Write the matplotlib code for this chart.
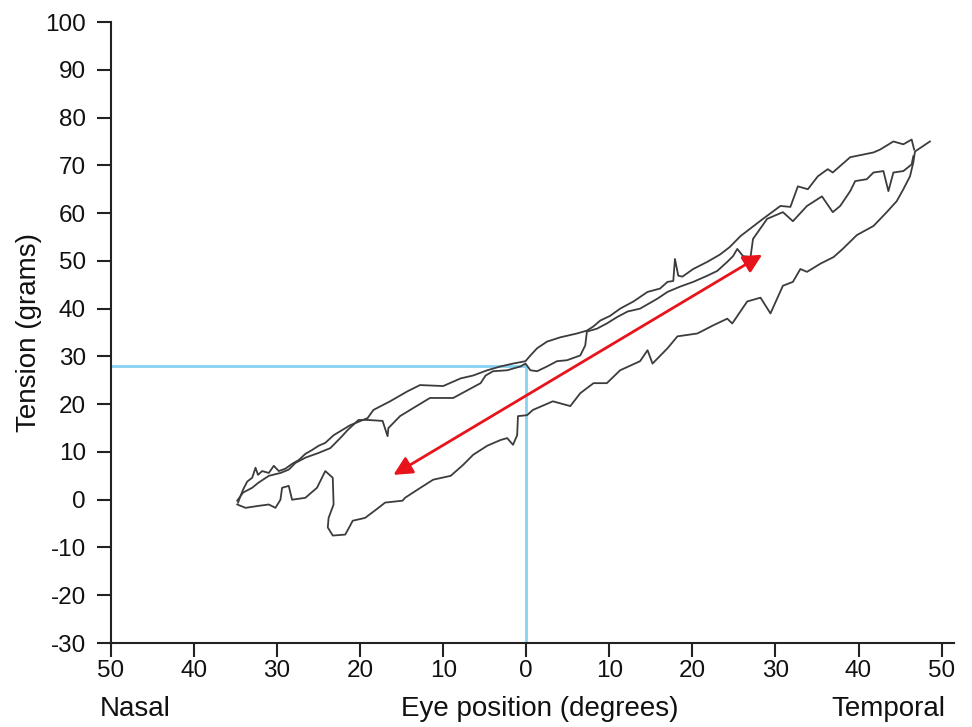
import matplotlib
matplotlib.use('Agg')
import matplotlib.pyplot as plt

plt.rcParams['font.family'] = ['Liberation Sans', 'DejaVu Sans']
plt.rcParams['axes.unicode_minus'] = False

# lower branch (nasal -> temporal)
low_x = [-34.8, -33.8, -32.3, -31.0, -30.2, -29.6, -29.4, -28.6, -28.2, -26.6, -25.2, -24.2,
         -23.3, -23.2, -23.8, -23.9, -23.3, -21.8, -21.2, -20.9, -19.4, -17.8, -17.0, -14.9,
         -14.6, -13.1, -12.2, -11.2, -9.1, -7.6, -6.4, -4.7, -3.1, -2.3, -1.6, -1.1, -1.0,
         0.1, 0.8, 3.2, 5.3, 6.5, 8.1, 9.7, 11.3, 13.7, 14.6, 15.2, 17.0, 18.2, 20.6, 22.5,
         24.2, 24.8, 26.6, 28.2, 29.4, 30.9, 32.1, 33.0, 33.8, 35.4, 37.0, 38.1, 39.8, 41.8,
         43.4, 44.6, 45.4, 46.2, 46.6, 46.8, 48.6]
low_y = [-1.0, -1.7, -1.3, -1.0, -1.7, 0.0, 2.5, 2.9, 0.0, 0.4, 2.5, 6.0,
         4.6, -1.0, -3.8, -5.8, -7.5, -7.3, -5.4, -4.4, -3.8, -1.7, -0.6, -0.2,
         0.4, 2.1, 3.1, 4.2, 5.0, 7.3, 9.4, 11.3, 12.5, 12.9, 11.5, 13.5, 17.5,
         17.7, 18.8, 20.6, 19.6, 22.3, 24.4, 24.4, 27.1, 29.0, 31.3, 28.5, 31.7, 34.2, 34.8, 36.5,
         37.9, 36.9, 41.5, 42.3, 39.0, 44.8, 45.6, 48.3, 47.7, 49.4, 50.8, 52.5, 55.4, 57.3,
         60.2, 62.5, 65.0, 67.7, 70.6, 72.9, 75.0]

# upper branch, first pass
upA_x = [-34.7, -34.4, -34.1, -33.6, -33.0, -32.6, -32.3, -31.8, -31.0, -30.4, -29.8, -29.0,
         -28.2, -27.4, -26.6, -25.8, -25.0, -24.2, -23.2, -21.2, -19.1, -18.4, -16.4, -14.3,
         -12.8, -10.0, -7.9, -6.4, -4.7, -3.1, -1.6, -0.1, 0.5, 1.3, 2.5, 4.1, 6.1, 7.3, 8.1,
         8.9, 10.1, 11.3, 12.9, 14.6, 16.1, 17.0, 17.7, 17.9, 18.3, 18.8, 20.1, 21.8, 23.3,
         24.5, 25.8, 28.5, 30.6, 31.8, 32.7, 33.9, 35.1, 36.3, 36.9, 39.0, 41.8, 42.6, 44.2,
         45.4, 46.4, 46.7]
upA_y = [-0.6, 0.8, 2.1, 3.8, 4.6, 6.7, 5.2, 6.0, 5.6, 7.1, 6.0, 6.5,
         7.5, 8.3, 9.6, 10.4, 11.3, 11.9, 13.5, 15.6, 17.1, 18.8, 20.6, 22.7,
         24.0, 23.8, 25.4, 26.0, 27.1, 27.9, 28.5, 29.0, 30.2, 31.7, 33.1, 34.0, 34.8, 35.4, 36.3,
         37.5, 38.5, 40.0, 41.5, 43.5, 44.2, 45.6, 45.8, 50.4, 46.9, 46.7, 48.3, 49.8, 51.3,
         52.9, 55.2, 58.8, 61.5, 61.3, 65.6, 65.0, 67.7, 69.2, 68.5, 71.7, 72.7, 73.3, 75.0,
         74.4, 75.4, 73.3]

# upper branch, second pass
upB_x = [-34.8, -34.1, -33.0, -32.3, -31.0, -29.6, -28.6, -27.8, -26.6, -25.0, -23.6, -22.4,
         -21.5, -20.2, -19.1, -17.3, -16.7, -16.6, -15.2, -13.6, -11.6, -8.8, -7.1, -5.5,
         -4.9, -4.0, -2.3, -0.7, -0.1, 0.5, 1.3, 2.5, 3.7, 4.9, 6.5, 7.1, 7.3, 8.5, 9.7,
         11.0, 12.2, 13.7, 15.8, 17.0, 18.5, 20.1, 21.8, 23.0, 24.2, 24.9, 25.4, 26.1, 27.0,
         27.3, 29.0, 30.9, 32.1, 33.8, 35.6, 36.9, 37.8, 39.0, 39.6, 41.0, 41.8, 43.0, 43.6,
         44.2, 45.4, 46.4, 46.6]
upB_y = [-0.2, 1.5, 2.5, 3.5, 5.0, 5.6, 6.3, 7.7, 8.8, 9.8, 10.8, 12.9,
         14.6, 16.7, 16.7, 16.5, 13.3, 15.0, 17.5, 19.2, 21.3, 21.3, 22.9, 24.4,
         26.0, 26.9, 27.1, 27.9, 28.5, 27.1, 26.9, 27.9, 29.0, 29.2, 30.2, 32.3, 35.2, 35.8, 36.9,
         38.3, 39.4, 40.0, 42.1, 43.5, 44.6, 45.6, 46.9, 47.9, 49.8, 51.0, 52.5, 51.0, 50.8,
         54.6, 58.8, 60.2, 58.3, 61.5, 63.5, 60.2, 61.5, 64.6, 66.7, 67.1, 68.5, 68.8, 64.6,
         68.5, 68.8, 70.2, 71.9]

ref_x = 0
ref_y = 28
arrow_start = (-16.0, 5.2)
arrow_end = (28.4, 51.3)

xticks = [-50, -40, -30, -20, -10, 0, 10, 20, 30, 40, 50]
xtick_labels = ['50', '40', '30', '20', '10', '0', '10', '20', '30', '40', '50']
yticks = list(range(-30, 101, 10))

fig = plt.figure(figsize=(9.72, 7.27), dpi=100)
ax = fig.add_axes([0.1142, 0.1155, 0.8673, 0.8542])

line_color = '#3c3c3c'
ax.plot(low_x, low_y, color=line_color, lw=1.3)
ax.plot(upA_x, upA_y, color=line_color, lw=1.3)
ax.plot(upB_x, upB_y, color=line_color, lw=1.3)

blue = '#86d2f2'
ax.plot([-50, ref_x], [ref_y, ref_y], color=blue, lw=2, zorder=1)
ax.plot([ref_x, ref_x], [-30, ref_y], color=blue, lw=2, zorder=1)

ax.annotate('', xy=arrow_end, xytext=arrow_start,
            arrowprops=dict(arrowstyle='<|-|>', color='#e8141c', lw=2,
                            mutation_scale=28, shrinkA=0, shrinkB=0))

ax.set_xlim(-50, 51.5)
ax.set_ylim(-30, 100)
ax.set_xticks(xticks)
ax.set_xticklabels(xtick_labels)
ax.set_yticks(yticks)

for s in ['top', 'right']:
    ax.spines[s].set_visible(False)
for s in ['left', 'bottom']:
    ax.spines[s].set_linewidth(1.5)
    ax.spines[s].set_color('#222222')

ax.tick_params(axis='both', direction='out', length=10, width=1.5, colors='#222222',
               labelsize=17.5, labelcolor='#111111')
ax.tick_params(axis='y', pad=8)
ax.tick_params(axis='x', pad=2)

ax.set_ylabel('Tension (grams)', fontsize=20, color='#111111')
ax.yaxis.set_label_coords(-0.082, 0.5)
fig.text(0.103, 0.015, 'Nasal', fontsize=20, color='#111111', ha='left', va='baseline')
fig.text(0.555, 0.015, 'Eye position (degrees)', fontsize=20, color='#111111', ha='center', va='baseline')
fig.text(0.973, 0.015, 'Temporal', fontsize=20, color='#111111', ha='right', va='baseline')

fig.savefig('out.png', dpi=100)
